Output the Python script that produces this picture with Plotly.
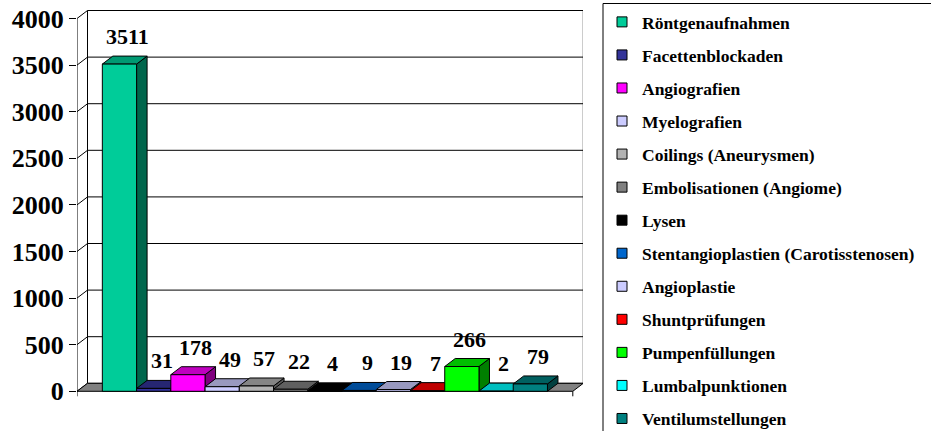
import plotly.graph_objects as go

# ---------------- data ----------------
categories = ["Röntgenaufnahmen", "Facettenblockaden", "Angiografien", "Myelografien",
              "Coilings (Aneurysmen)", "Embolisationen (Angiome)", "Lysen",
              "Stentangioplastien (Carotisstenosen)", "Angioplastie", "Shuntprüfungen",
              "Pumpenfüllungen", "Lumbalpunktionen", "Ventilumstellungen"]
values = [3511, 31, 178, 49, 57, 22, 4, 9, 19, 7, 266, 2, 79]
colors = ["#00CC99", "#333399", "#FF00FF", "#CCCCFF", "#B2B2B2", "#808080", "#000000",
          "#0066CC", "#CCCCFF", "#FF0000", "#00FF00", "#00FFFF", "#008080"]
y_ticks = [0, 500, 1000, 1500, 2000, 2500, 3000, 3500, 4000]

# ---------------- style / geometry ----------------
W, H = 931, 431
ML, MT = 77, 10
PLOT_W, PLOT_H = 506, 390
MR = W - ML - PLOT_W
MB = H - MT - PLOT_H
PX_PER_SLOT = 34.24
UNITS_PER_PX = 10.73
ZERO_FROM_TOP = 381.3           # pixel distance of value 0 below top of plot area
PAD = 0.74                      # floor margin on each side (in bar slots)
DX = 10.5 / PX_PER_SLOT         # depth offset (slots)
DY = 8 * UNITS_PER_PX           # depth offset (value units)
N = len(values)
X_END = N + PAD
y_top = max(y_ticks)
TICK_DOWN = 5 * UNITS_PER_PX

FONT = "Liberation Serif"


def shade(hex_color, f):
    h = hex_color.lstrip("#")
    r, g, b = (int(h[k:k + 2], 16) for k in (0, 2, 4))
    return "#%02X%02X%02X" % (int(r * f), int(g * f), int(b * f))


fig = go.Figure()

# back wall grid lines and side-wall diagonals
gx, gy = [], []
for t in y_ticks:
    gx += [-PAD, -PAD + DX, X_END + DX, None]
    gy += [t, t + DY, t + DY, None]
# back wall vertical edges
gx += [-PAD + DX, -PAD + DX, None, X_END + DX, X_END + DX, None]
gy += [DY, y_top + DY, None, DY, y_top + DY, None]
fig.add_trace(go.Scatter(x=gx, y=gy, mode="lines", line=dict(color="black", width=1),
                         hoverinfo="skip", showlegend=False))

# floor
fig.add_trace(go.Scatter(x=[-PAD, X_END, X_END + DX, -PAD + DX, -PAD],
                         y=[0, 0, DY, DY, 0], mode="lines", fill="toself",
                         fillcolor="#808080", line=dict(color="black", width=1),
                         hoverinfo="skip", showlegend=False))

# 3D bars: side, top, front for each bar (left to right)
for i, (v, c) in enumerate(zip(values, colors)):
    x0, x1 = i, i + 1
    faces = [
        ([x1, x1 + DX, x1 + DX, x1, x1], [0, DY, v + DY, v, 0], shade(c, 0.5)),
        ([x0, x1, x1 + DX, x0 + DX, x0], [v, v, v + DY, v + DY, v], shade(c, 0.75)),
        ([x0, x1, x1, x0, x0], [0, 0, v, v, 0], c),
    ]
    for fx, fy, fc in faces:
        fig.add_trace(go.Scatter(x=fx, y=fy, mode="lines", fill="toself", fillcolor=fc,
                                 line=dict(color="black", width=1),
                                 hoverinfo="skip", showlegend=False))

# front axis line and end ticks
fig.add_trace(go.Scatter(x=[-PAD, -PAD, None, X_END, X_END],
                         y=[y_top, -TICK_DOWN, None, 0, -TICK_DOWN],
                         mode="lines", line=dict(color="black", width=1),
                         hoverinfo="skip", showlegend=False))

# legend entries
for name, c in zip(categories, colors):
    fig.add_trace(go.Scatter(x=[None], y=[None], mode="markers", name=name, legendgroup=name,
                             marker=dict(symbol="square", size=10, color=c,
                                         line=dict(color="black", width=1))))

# data labels
for i, v in enumerate(values):
    fig.add_annotation(x=i + 0.5 + DX * 0.75, y=v + DY, text=str(v), showarrow=False,
                       yanchor="bottom", yshift=5,
                       font=dict(family=FONT, size=22, color="black", weight="bold"))


# page pixel -> paper coordinates
def px_to_paper_x(px):
    return (px - ML) / PLOT_W


def px_to_paper_y(py):
    return (MT + PLOT_H - py) / PLOT_H


# legend frame (open to the right and bottom, as in the original)
fig.add_shape(type="rect", xref="paper", yref="paper",
              x0=px_to_paper_x(603), x1=px_to_paper_x(W + 40),
              y0=px_to_paper_y(H + 40), y1=px_to_paper_y(3.5),
              line=dict(color="black", width=1), fillcolor="rgba(0,0,0,0)", layer="above")

x_lo = -PAD
x_hi = x_lo + PLOT_W / PX_PER_SLOT
y_hi = ZERO_FROM_TOP * UNITS_PER_PX
y_lo = -(PLOT_H - ZERO_FROM_TOP) * UNITS_PER_PX

fig.update_layout(
    template="none",
    width=W, height=H,
    margin=dict(l=ML, r=MR, t=MT, b=MB, pad=0, autoexpand=False),
    paper_bgcolor="white", plot_bgcolor="white",
    showlegend=True,
    hovermode=False,
    legend=dict(xref="container", yref="container", x=602 / W, y=1 - 4 / H,
                xanchor="left", yanchor="top", maxheight=2000,
                bgcolor="rgba(0,0,0,0)", borderwidth=0, tracegroupgap=7.3,
                font=dict(family=FONT, size=17.5, color="black", weight="bold")),
    xaxis=dict(range=[x_lo, x_hi], visible=False, fixedrange=True),
    yaxis=dict(range=[y_lo, y_hi], tickvals=y_ticks, ticktext=[str(t) for t in y_ticks],
               ticks="outside", ticklen=7, tickcolor="black", tickwidth=1,
               ticklabeloverflow="allow",
               showgrid=False, zeroline=False, showline=False, fixedrange=True,
               tickfont=dict(family=FONT, size=26, color="black", weight="bold")),
)

fig.write_html("out.html", config={"displayModeBar": False},
               post_script="document.body.style.margin='0';")
